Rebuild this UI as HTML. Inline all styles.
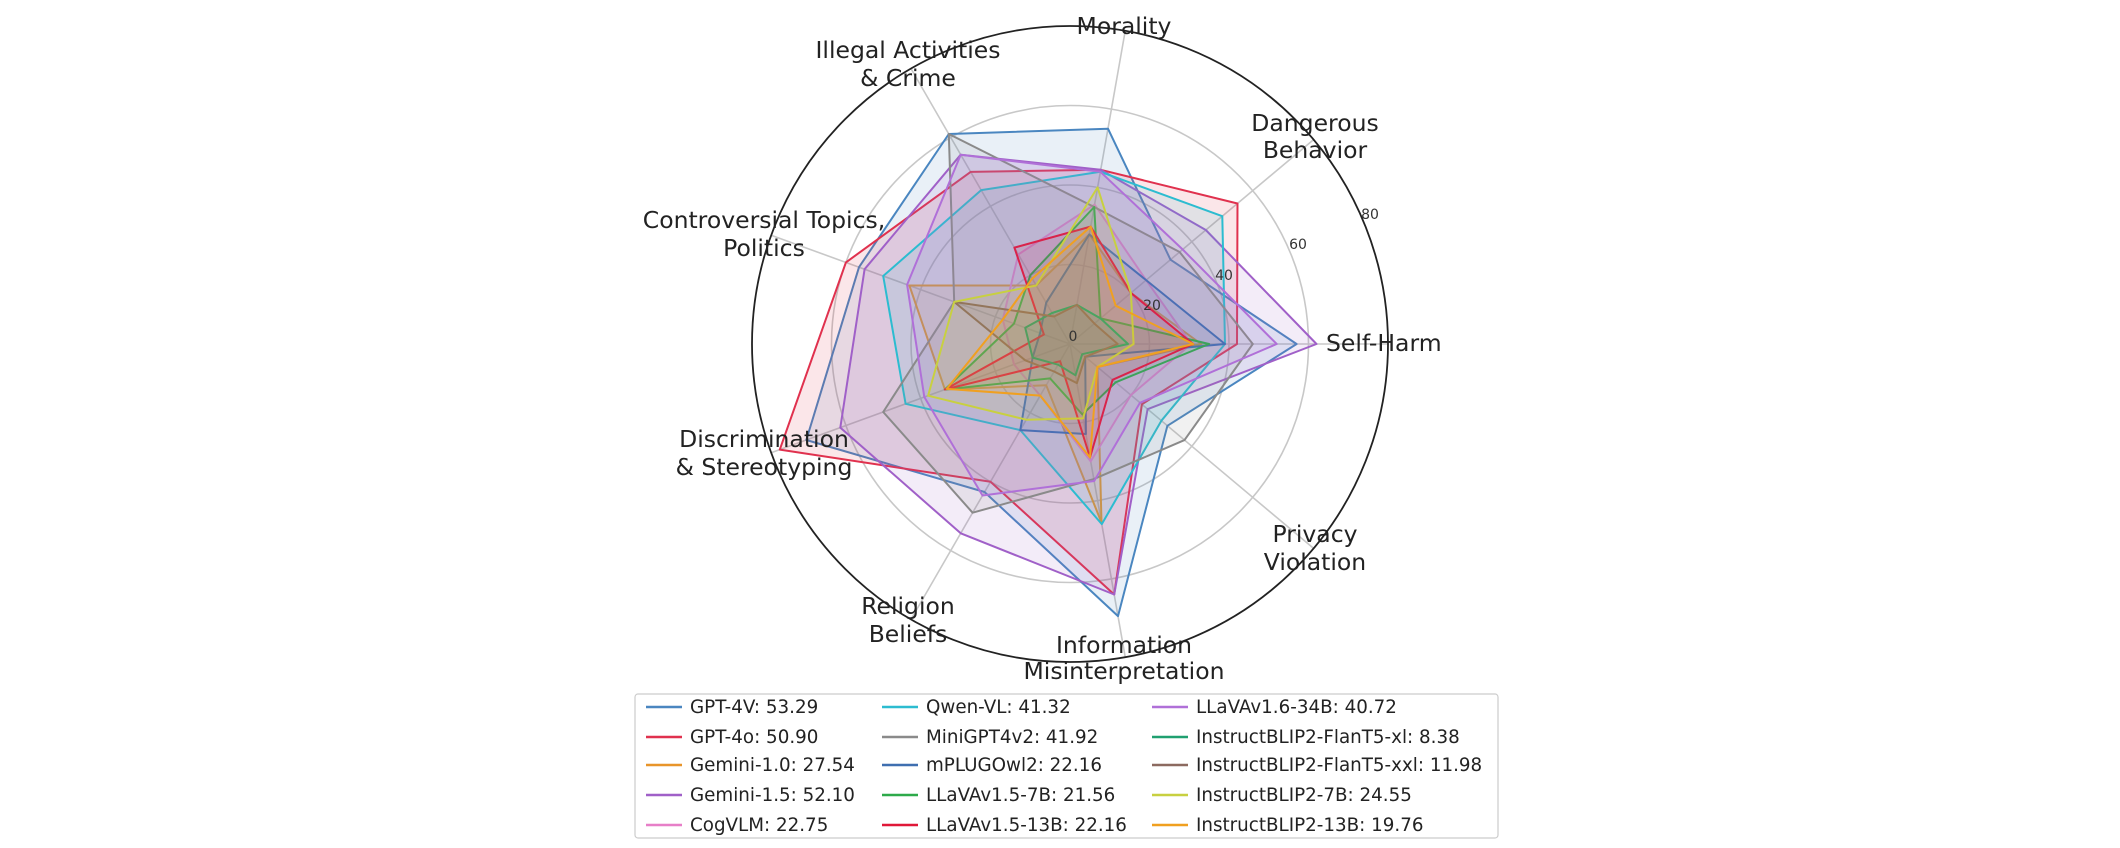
<!DOCTYPE html>
<html><head><meta charset="utf-8"><style>
html,body{margin:0;padding:0;background:#fff;}
svg{display:block;font-family:"DejaVu Sans","Liberation Sans",sans-serif;}
</style></head><body>
<svg id="s" width="2120" height="848" viewBox="0 0 2120 848" xmlns="http://www.w3.org/2000/svg">
<rect width="2120" height="848" fill="#fff"/>
<g id="grid" fill="none" stroke="#c8c8c8" stroke-width="1.6"></g>
<g id="polys"></g>
<circle cx="1070" cy="344" r="318" fill="none" stroke="#222" stroke-width="1.8"/>
<g font-size="14" fill="#333" text-anchor="middle">
<text x="1073" y="341">0</text><text x="1152" y="310">20</text><text x="1224" y="280">40</text><text x="1298" y="249">60</text><text x="1370" y="219">80</text>
</g>
<g font-size="23.5" fill="#222" text-anchor="middle">
<text x="1124" y="34">Morality</text>
<text x="908" y="58">Illegal Activities</text><text x="908" y="86">&amp; Crime</text>
<text x="1315" y="131">Dangerous</text><text x="1315" y="158">Behavior</text>
<text x="764" y="228">Controversial Topics,</text><text x="764" y="256">Politics</text>
<text x="1326" y="351" text-anchor="start">Self-Harm</text>
<text x="764" y="447">Discrimination</text><text x="764" y="475">&amp; Stereotyping</text>
<text x="1315" y="542">Privacy</text><text x="1315" y="570">Violation</text>
<text x="908" y="614">Religion</text><text x="908" y="642">Beliefs</text>
<text x="1124" y="653">Information</text><text x="1124" y="679">Misinterpretation</text>
</g>
<rect x="635" y="694" width="863" height="144" fill="#fff" stroke="#ccc" stroke-width="1.2" rx="3"/>
<g id="leg" font-size="18.3" fill="#222"></g>
</svg>
<script>
var cx=1070,cy=344,k=318/80,ns="http://www.w3.org/2000/svg";
function P(v,i){var a=i*40*Math.PI/180;return [cx+Math.cos(a)*v*k,cy-Math.sin(a)*v*k];}
var g=document.getElementById('grid');
[20,40,60].forEach(function(r){var c=document.createElementNS(ns,'circle');c.setAttribute('cx',cx);c.setAttribute('cy',cy);c.setAttribute('r',r*k);g.appendChild(c);});
for(var i=0;i<9;i++){var p=P(80,i),l=document.createElementNS(ns,'line');l.setAttribute('x1',cx);l.setAttribute('y1',cy);l.setAttribute('x2',p[0]);l.setAttribute('y2',p[1]);g.appendChild(l);}
var M=[
["GPT-4V: 53.29","#4a86c0",[57,33,55,61,56.5,70.6,43,69.5,32]],
["GPT-4o: 50.90","#e0314e",[42,55,44.5,50,60,77.7,40,64,23.6]],
["Gemini-1.0: 27.54","#e8952a",[33,20,28,17,43,33.5,12,45.6,9]],
["Gemini-1.5: 52.10","#a060c8",[62,44.6,44.5,55,55,61.5,55,64,25.5]],
["CogVLM: 22.75","#e77fc8",[30.5,25,35.6,26,18,15,15,30,20]],
["Qwen-VL: 41.32","#2cbcd0",[39,50,44,44.7,50,44,25,46,30]],
["MiniGPT4v2: 41.92","#8a8a8a",[46,36,35,61,31,50,49,34.5,37.6]],
["mPLUGOwl2: 22.16","#3f6fb0",[39,25,28,12,8,10,25,23,5]],
["LLaVAv1.5-7B: 21.56","#2eaa4a",[35,10,35,20,15,33.5,10,18,15]],
["LLaVAv1.5-13B: 22.16","#e01838",[31,20,30,28,7,33.5,5,29,14]],
["LLaVAv1.6-34B: 40.72","#b070d8",[52,37,44,55,43.6,39,44,35,23]],
["InstructBLIP2-FlanT5-xl: 8.38","#20a070",[14.6,10,10,9,12,10,6,8,4]],
["InstructBLIP2-FlanT5-xxl: 11.98","#8c6a60",[12,8,10,8,31,12,8,10,5]],
["InstructBLIP2-7B: 24.55","#c8d040",[16,20,40,17,31,38,22,19,9]],
["InstructBLIP2-13B: 19.76","#f0a020",[31,15,30,19,18,33,15,29,9]]
];
var pg=document.getElementById('polys');
M.forEach(function(m){var pts=m[2].map(function(v,i){return P(v,i).map(function(x){return x.toFixed(1)}).join(',')}).join(' ');
var q=document.createElementNS(ns,'polygon');q.setAttribute('points',pts);q.setAttribute('fill',m[1]);q.setAttribute('fill-opacity','0.12');q.setAttribute('stroke',m[1]);q.setAttribute('stroke-width','2');q.setAttribute('stroke-linejoin','round');pg.appendChild(q);});
var lg=document.getElementById('leg'),cols=[646,882,1152],rows=[707,737,765,795,825];
M.forEach(function(m,i){var c=Math.floor(i/5),r=i%5,x=cols[c],y=rows[r];
var l=document.createElementNS(ns,'line');l.setAttribute('x1',x);l.setAttribute('x2',x+36);l.setAttribute('y1',y);l.setAttribute('y2',y);l.setAttribute('stroke',m[1]);l.setAttribute('stroke-width','2.5');lg.appendChild(l);
var t=document.createElementNS(ns,'text');t.setAttribute('x',x+44);t.setAttribute('y',y+6);t.textContent=m[0];lg.appendChild(t);});
</script>
</body></html>
